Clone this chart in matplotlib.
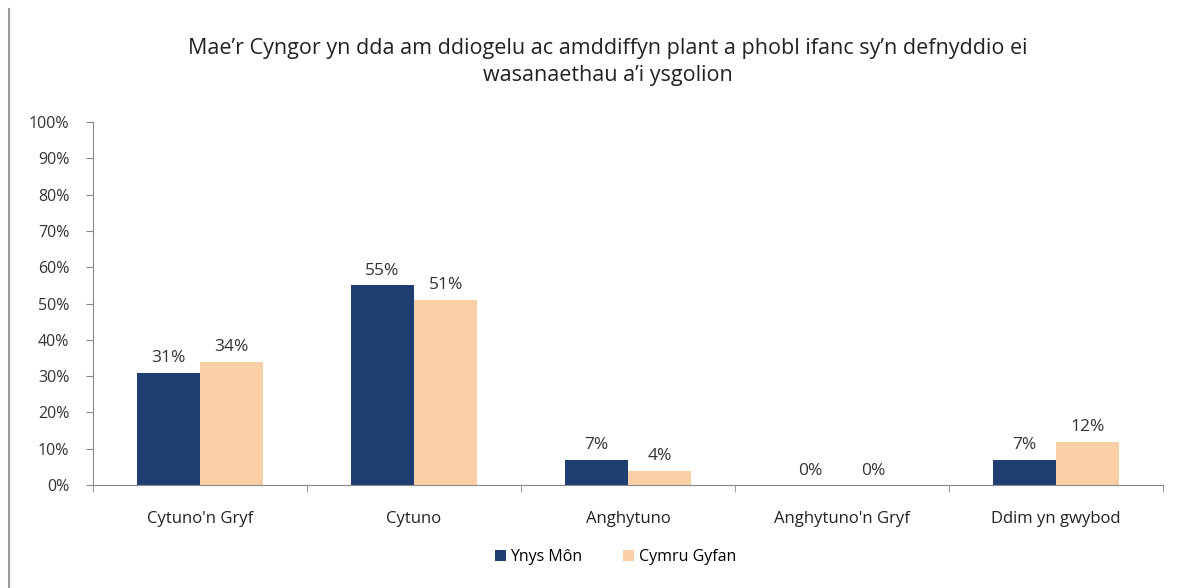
import matplotlib
matplotlib.use("Agg")
import matplotlib.pyplot as plt
import numpy as np
from matplotlib.lines import Line2D

title = "Mae\u2019r Cyngor yn dda am ddiogelu ac amddiffyn plant a phobl ifanc sy\u2019n defnyddio ei\nwasanaethau a\u2019i ysgolion"
categories = ["Cytuno'n Gryf", "Cytuno", "Anghytuno", "Anghytuno'n Gryf", "Ddim yn gwybod"]
series_names = ["Ynys M\u00f4n", "Cymru Gyfan"]
ynys_mon = [31, 55, 7, 0, 7]
cymru_gyfan = [34, 51, 4, 0, 12]
yticks = list(range(0, 101, 10))

plt.rcParams['font.family'] = ['Open Sans', 'DejaVu Sans']

fig = plt.figure(figsize=(12.03, 5.88), dpi=100)
ax = fig.add_axes([0.0773, 0.175, 0.8895, 0.6175])

x = np.arange(len(categories))
w = 0.295
navy = "#1F3F73"
peach = "#FBCFA6"
b1 = ax.bar(x - w/2, ynys_mon, w, color=navy, label=series_names[0])
b2 = ax.bar(x + w/2, cymru_gyfan, w, color=peach, label=series_names[1])
for bars, vals in ((b1, ynys_mon), (b2, cymru_gyfan)):
    for b, v in zip(bars, vals):
        ax.text(b.get_x() + b.get_width()/2, v + 1.8, f"{v}%", ha="center", va="bottom",
                fontsize=12.5, color="#333333")

ax.set_xlim(-0.5, len(categories) - 0.5)
ax.set_ylim(0, 100)
ax.set_yticks(yticks)
ax.set_yticklabels([f"{t}%" for t in yticks], fontsize=11.5, color="#333333")
ax.set_xticks(x)
ax.set_xticklabels(categories, fontsize=12, color="#222222")
ax.tick_params(axis="x", length=0, pad=19)
ax.set_xticks(np.arange(-0.5, len(categories)), minor=True)
ax.tick_params(axis="x", which="minor", length=5, color="#888888", direction="out")
ax.tick_params(axis="y", length=5, color="#888888", direction="out", pad=12)
for s in ("top", "right"):
    ax.spines[s].set_visible(False)
ax.spines["left"].set_color("#888888")
ax.spines["bottom"].set_color("#888888")

fig.text(0.505, 0.935, title, ha="center", va="top", fontsize=15.5, color="#222222", linespacing=1.35)

ax.legend(loc="center", bbox_to_anchor=(0.488, -0.198), ncol=2, frameon=False,
          fontsize=11.5, handlelength=0.7, handleheight=0.7, columnspacing=2.5, handletextpad=0.3)

fig.add_artist(Line2D([0.0075, 0.0075], [0.0, 0.985], color="#999999", lw=1.5))

fig.savefig("out.png", dpi=100, facecolor="white")
